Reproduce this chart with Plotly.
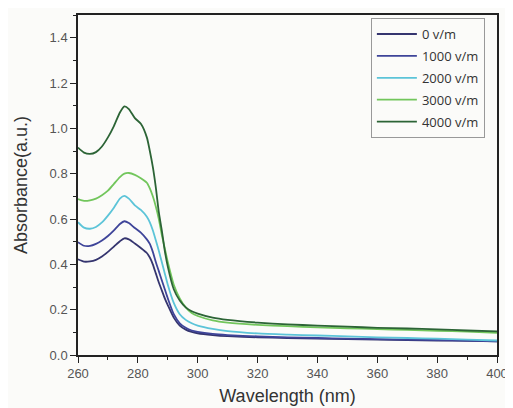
import plotly.graph_objects as go

wl = [260, 262, 264, 266, 268, 270, 272, 274, 275.5, 277, 279, 281, 283, 284, 285, 286, 287, 288, 289, 290,
      292, 294, 296, 298, 300, 305, 310, 320, 330, 340, 350, 360, 370, 380, 390, 400]

abs_0 = [0.422, 0.412, 0.413, 0.420, 0.435, 0.455, 0.478, 0.502, 0.515, 0.510, 0.492, 0.472, 0.450, 0.430, 0.400, 0.360, 0.320, 0.285, 0.250, 0.220,
         0.165, 0.130, 0.112, 0.102, 0.096, 0.088, 0.083, 0.078, 0.075, 0.072, 0.070, 0.068, 0.066, 0.064, 0.062, 0.060]
abs_1000 = [0.498, 0.482, 0.481, 0.490, 0.505, 0.525, 0.550, 0.578, 0.590, 0.582, 0.560, 0.540, 0.510, 0.490, 0.455, 0.410, 0.370, 0.330, 0.290, 0.250,
            0.180, 0.140, 0.120, 0.108, 0.102, 0.093, 0.088, 0.082, 0.078, 0.075, 0.072, 0.070, 0.068, 0.066, 0.063, 0.060]
abs_2000 = [0.586, 0.562, 0.557, 0.565, 0.585, 0.615, 0.650, 0.690, 0.702, 0.690, 0.660, 0.640, 0.610, 0.585, 0.550, 0.506, 0.460, 0.410, 0.360, 0.310,
            0.230, 0.180, 0.155, 0.140, 0.130, 0.115, 0.105, 0.095, 0.090, 0.086, 0.082, 0.078, 0.075, 0.072, 0.068, 0.064]
abs_3000 = [0.688, 0.680, 0.682, 0.690, 0.705, 0.725, 0.755, 0.785, 0.800, 0.803, 0.795, 0.780, 0.760, 0.735, 0.700, 0.655, 0.600, 0.530, 0.470, 0.410,
            0.310, 0.250, 0.210, 0.185, 0.172, 0.153, 0.143, 0.133, 0.127, 0.122, 0.118, 0.114, 0.111, 0.107, 0.103, 0.098]
abs_4000 = [0.915, 0.893, 0.887, 0.895, 0.920, 0.960, 1.010, 1.070, 1.097, 1.085, 1.045, 1.020, 0.960, 0.900, 0.830, 0.740, 0.630, 0.550, 0.460, 0.390,
            0.290, 0.240, 0.210, 0.193, 0.183, 0.165, 0.155, 0.143, 0.135, 0.130, 0.125, 0.120, 0.117, 0.113, 0.108, 0.104]

series_names = ["0 v/m", "1000 v/m", "2000 v/m", "3000 v/m", "4000 v/m"]
series_vals = [abs_0, abs_1000, abs_2000, abs_3000, abs_4000]
colors = ["#35356f", "#3e4499", "#5cc4d8", "#72c65c", "#2c6436"]

x_ticks = [260, 280, 300, 320, 340, 360, 380, 400]
y_ticks = [0.0, 0.2, 0.4, 0.6, 0.8, 1.0, 1.2, 1.4]

FONT = "Liberation Sans, Arial, sans-serif"

fig = go.Figure()
for name, vals, c in zip(series_names, series_vals, colors):
    fig.add_trace(go.Scatter(x=wl, y=vals, mode="lines", name=name, legendgroup=name,
                             line=dict(color=c, width=1.8, shape="spline", smoothing=0.6)))

axis_common = dict(showgrid=False, zeroline=False, showline=True, linecolor="#222", linewidth=1.5,
                   mirror=True, ticks="outside", ticklen=6, tickwidth=1.2, tickcolor="#222",
                   ticklabeloverflow="allow",
                   tickfont=dict(family=FONT, size=13, color="#555"))

fig.update_xaxes(range=[260, 400], tickvals=x_ticks, ticktext=[str(v) for v in x_ticks],
                 minor=dict(dtick=10, ticks="outside", ticklen=3, tickcolor="#222", tickwidth=1),
                 title=dict(text="Wavelength (nm)", font=dict(family=FONT, size=18, color="#333"), standoff=9),
                 **axis_common)
fig.update_yaxes(range=[0, 1.5], tickvals=y_ticks, ticktext=[f"{v:.1f}" for v in y_ticks],
                 minor=dict(dtick=0.1, ticks="outside", ticklen=3, tickcolor="#222", tickwidth=1),
                 title=dict(text="Absorbance(a.u.)", font=dict(family=FONT, size=18, color="#333"), standoff=17),
                 **axis_common)

fig.update_layout(
    width=505, height=400,
    margin=dict(l=70, r=10, t=5, b=52),
    paper_bgcolor="#fbfbf9", plot_bgcolor="#fbfbf9",
    showlegend=True,
    legend=dict(x=0.699, y=0.991, xanchor="left", yanchor="top",
                bgcolor="rgba(255,255,255,0)", bordercolor="#999", borderwidth=1,
                font=dict(family="Open Sans, sans-serif", size=13, color="#333"),
                itemwidth=40, tracegroupgap=2),
)

fig.write_html("out.html")
